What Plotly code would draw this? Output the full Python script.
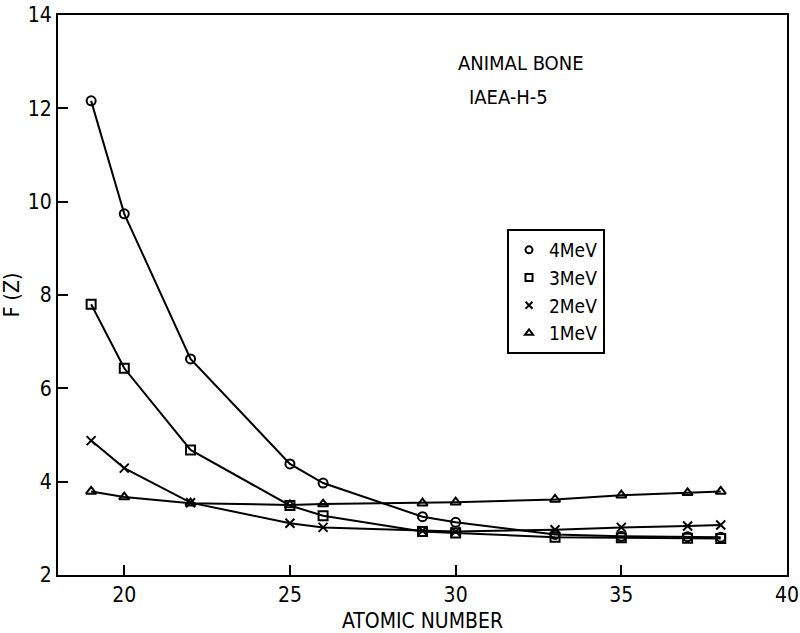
import plotly.graph_objects as go

# Data
z_values = [19, 20, 22, 25, 26, 29, 30, 33, 35, 37, 38]
f_4mev = [12.16, 9.74, 6.63, 4.38, 3.97, 3.25, 3.13, 2.87, 2.83, 2.82, 2.81]
f_3mev = [7.80, 6.43, 4.68, 3.49, 3.27, 2.93, 2.90, 2.81, 2.80, 2.79, 2.78]
f_2mev = [4.88, 4.29, 3.55, 3.11, 3.02, 2.95, 2.93, 2.97, 3.02, 3.05, 3.07]
f_1mev = [3.79, 3.67, 3.54, 3.50, 3.52, 3.54, 3.56, 3.62, 3.71, 3.76, 3.79]

series_names = ["4MeV", "3MeV", "2MeV", "1MeV"]
series_values = [f_4mev, f_3mev, f_2mev, f_1mev]
series_symbols = ["circle-open", "square-open", "x-thin-open", "triangle-up-open"]

x_ticks = [20, 25, 30, 35, 40]
y_ticks = [2, 4, 6, 8, 10, 12, 14]

FONT = "DejaVu Sans Condensed, Liberation Sans Narrow, sans-serif"

L, R, T, B = 58, 13, 15, 58
PW, PH = 800 - L - R, 633 - T - B

fig = go.Figure()
for name, vals, sym in zip(series_names, series_values, series_symbols):
    fig.add_trace(go.Scatter(
        x=z_values, y=vals, mode="lines+markers", name=name, showlegend=False,
        line=dict(color="black", width=2),
        marker=dict(symbol=sym, size=9, color="black", line=dict(width=2, color="black")),
    ))
    # marker-only legend entry
    fig.add_trace(go.Scatter(
        x=[None], y=[None], mode="markers", name=name, showlegend=True,
        marker=dict(symbol=sym, size=7, color="black", line=dict(width=2, color="black")),
    ))

fig.update_layout(
    width=800, height=633,
    margin=dict(l=L, r=R, t=T, b=B, autoexpand=False),
    paper_bgcolor="white", plot_bgcolor="white",
    font=dict(family=FONT, size=20, color="black"),
    showlegend=True,
    legend=dict(
        x=(507 - L) / PW, y=1 - (229 - T) / PH,
        xanchor="left", yanchor="top",
        bordercolor="black", borderwidth=2, bgcolor="white",
        font=dict(family=FONT, size=19, color="black"),
        tracegroupgap=0,
    ),
    xaxis=dict(
        range=[18, 40], tickvals=x_ticks, ticktext=[str(v) for v in x_ticks],
        ticks="inside", ticklen=10, tickwidth=2, tickcolor="black",
        showline=True, linecolor="black", linewidth=2, mirror=True,
        showgrid=False, zeroline=False, automargin=False,
        ticklabeloverflow="allow",
        title=dict(text="ATOMIC NUMBER", standoff=8, font=dict(size=21)),
        tickfont=dict(size=21),
    ),
    yaxis=dict(
        range=[2, 14], tickvals=y_ticks, ticktext=[str(v) for v in y_ticks],
        ticks="inside", ticklen=10, tickwidth=2, tickcolor="black",
        showline=True, linecolor="black", linewidth=2, mirror=True,
        showgrid=False, zeroline=False, automargin=False,
        ticklabeloverflow="allow",
        title=dict(text="F (Z)", standoff=6, font=dict(size=21)),
        tickfont=dict(size=21),
    ),
    annotations=[
        dict(text="ANIMAL BONE", x=(521 - L) / PW, y=1 - (63 - T) / PH, xref="paper", yref="paper",
             xanchor="center", yanchor="middle", showarrow=False, font=dict(size=20)),
        dict(text="IAEA-H-5", x=(508 - L) / PW, y=1 - (97 - T) / PH, xref="paper", yref="paper",
             xanchor="center", yanchor="middle", showarrow=False, font=dict(size=20)),
    ],
)

fig.write_html("out.html")
